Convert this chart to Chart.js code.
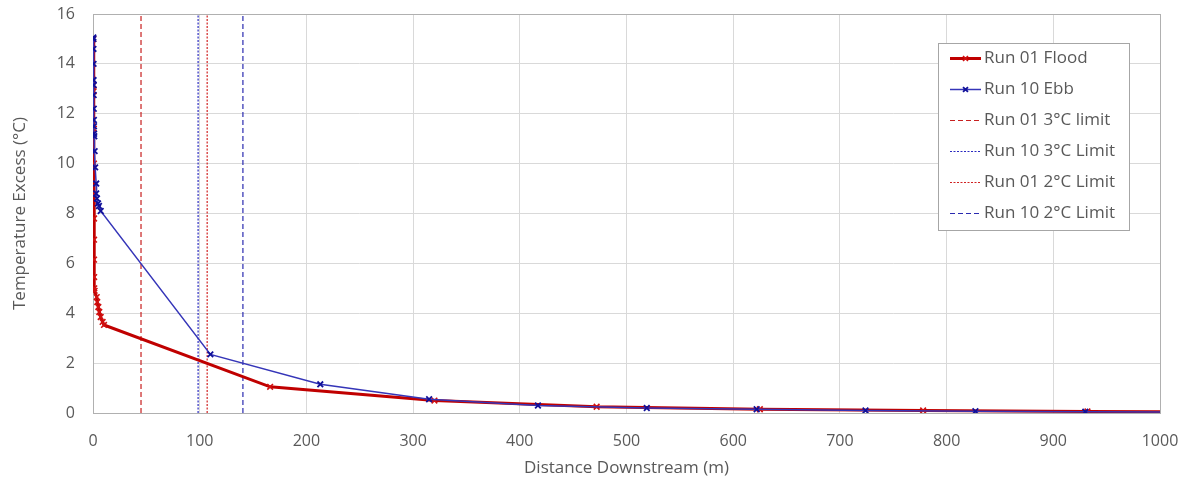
<!DOCTYPE html>
<html lang="en">
<head>
<meta charset="UTF-8">
<title>Temperature Excess vs Distance Downstream</title>
<script src="https://cdn.jsdelivr.net/npm/chart.js"></script>
<style>
  html, body { margin: 0; padding: 0; background: #fff; }
</style>
</head>
<body>
<canvas id="tempChart" width="1189" height="481"></canvas>
<script>
// Run 01 Flood (red)
const floodDist = [0.3, 0.5, 0.6, 0.8, 0.9, 1.0, 1.0, 1.0, 1.0, 1.1, 1.2, 1.5, 3.5, 4.0, 5.0, 5.9, 7.2, 9.0, 10.3, 166, 320, 472, 625, 778, 932, 1085];
const floodTemp = [15.0, 13.15, 12.9, 11.4, 10.0, 8.8, 7.8, 6.95, 6.15, 5.45, 5.0, 4.9, 4.65, 4.45, 4.25, 4.05, 3.85, 3.65, 3.53, 1.05, 0.5, 0.25, 0.15, 0.1, 0.06, 0.04];
// Run 10 Ebb (blue)
const ebbDist = [0.3, 0.3, 0.4, 0.5, 0.5, 0.6, 0.6, 0.7, 0.8, 0.9, 1.0, 1.2, 1.5, 2.0, 3.0, 3.0, 3.7, 4.7, 5.6, 7.2, 110, 213, 315, 417, 519, 622, 724, 827, 930, 1032];
const ebbTemp = [15.06, 15.0, 14.6, 14.0, 13.35, 13.15, 12.75, 12.2, 11.75, 11.5, 11.2, 11.1, 10.5, 9.85, 9.2, 8.8, 8.6, 8.4, 8.3, 8.1, 2.35, 1.15, 0.55, 0.3, 0.2, 0.15, 0.1, 0.07, 0.05, 0.03];
// limit distances (vertical lines)
const limitNames = ['Run 01 3°C limit', 'Run 10 3°C Limit', 'Run 01 2°C Limit', 'Run 10 2°C Limit'];
const limitDist = [45, 98.5, 107, 140.5];
const yRange = [0, 16];

const RED = '#c00000';
const BLUE = '#3535b8';
const limitColors = ['#c82020', '#2a2ac0', '#d02020', '#2a2ab0'];
const limitDashes = [[5, 3], [2, 1.5], [2, 1.5], [5, 3]];

const toPts = (xs, ys) => xs.map((x, i) => ({x: x, y: ys[i]}));

const datasets = [
    {label: 'Run 01 Flood', data: toPts(floodDist, floodTemp), borderColor: RED, backgroundColor: RED,
     pointBorderColor: '#d01010', borderWidth: 3, pointStyle: 'crossRot', pointRadius: 4, pointBorderWidth: 1.6, order: 2},
    {label: 'Run 10 Ebb', data: toPts(ebbDist, ebbTemp), borderColor: BLUE, backgroundColor: BLUE,
     pointBorderColor: '#10109a', borderWidth: 1.5, pointStyle: 'crossRot', pointRadius: 4, pointBorderWidth: 1.8, order: 1}
];
limitDist.forEach((d, i) => {
    datasets.push({label: limitNames[i], data: [{x: d, y: yRange[0]}, {x: d, y: yRange[1]}],
        borderColor: limitColors[i], borderWidth: 1.2, borderDash: limitDashes[i], pointRadius: 0, order: 3});
});

const FONT = '"Open Sans", "Noto Sans", sans-serif';
const GREY = '#595959';

// frame round the plot area
const plotFrame = {
    id: 'plotFrame',
    beforeDatasetsDraw(chart) {
        const a = chart.chartArea, ctx = chart.ctx;
        ctx.save();
        ctx.strokeStyle = '#b0b0b0';
        ctx.lineWidth = 1;
        ctx.strokeRect(Math.round(a.left) + 0.5, Math.round(a.top) + 0.5, Math.round(a.right - a.left), Math.round(a.bottom - a.top));
        ctx.restore();
    }
};

// boxed legend inside the plot
const boxLegend = {
    id: 'boxLegend',
    afterDraw(chart) {
        const ctx = chart.ctx;
        const bx = 938.5, by = 43.5, bw = 191, bh = 187;
        ctx.save();
        ctx.fillStyle = '#fff';
        ctx.fillRect(bx, by, bw, bh);
        ctx.strokeStyle = '#a6a6a6';
        ctx.lineWidth = 1;
        ctx.strokeRect(bx, by, bw, bh);
        ctx.font = '17px ' + FONT;
        ctx.textBaseline = 'middle';
        chart.data.datasets.forEach((ds, i) => {
            const y = 58.5 + i * 31;
            ctx.save();
            ctx.strokeStyle = ds.borderColor;
            ctx.lineWidth = ds.borderWidth;
            ctx.setLineDash(ds.borderDash || []);
            ctx.beginPath();
            ctx.moveTo(950, y);
            ctx.lineTo(981, y);
            ctx.stroke();
            ctx.setLineDash([]);
            if (ds.pointRadius) {
                ctx.strokeStyle = ds.pointBorderColor;
                ctx.lineWidth = ds.pointBorderWidth;
                Chart.helpers.drawPoint(ctx, {pointStyle: ds.pointStyle, radius: 3.5, borderWidth: ds.pointBorderWidth, rotation: 0}, 965.5, y);
            }
            ctx.restore();
            ctx.fillStyle = GREY;
            ctx.fillText(ds.label, 984, y);
        });
        ctx.restore();
    }
};

new Chart(document.getElementById('tempChart'), {
    type: 'scatter',
    data: {datasets: datasets},
    options: {
        responsive: false,
        animation: false,
        showLine: true,
        layout: {padding: {top: 14, right: 29, left: 0, bottom: 0}},
        plugins: {legend: {display: false}, tooltip: {enabled: false}},
        elements: {line: {tension: 0}},
        scales: {
            x: {
                type: 'linear', min: 0, max: 1000,
                ticks: {stepSize: 100, color: GREY, font: {family: FONT, size: 16}, padding: 19, maxRotation: 0,
                        callback: v => String(v)},
                grid: {color: '#d9d9d9', drawTicks: false},
                border: {display: false},
                title: {display: true, text: 'Distance Downstream (m)', color: GREY, font: {family: FONT, size: 17}, padding: {top: 0, bottom: 3}},
                afterFit(scale) { scale.height = 68; scale.paddingLeft = 0; scale.paddingRight = 0; }
            },
            y: {
                type: 'linear', min: yRange[0], max: yRange[1],
                ticks: {stepSize: 2, color: GREY, font: {family: FONT, size: 16}, padding: 18},
                grid: {color: '#d9d9d9', drawTicks: false},
                border: {display: false},
                title: {display: true, text: 'Temperature Excess (°C)', color: GREY, font: {family: FONT, size: 17}, padding: {top: 10, bottom: 0}},
                afterFit(scale) { scale.width = 93; scale.paddingTop = 0; scale.paddingBottom = 0; }
            }
        }
    },
    plugins: [plotFrame, boxLegend]
});
</script>
</body>
</html>
